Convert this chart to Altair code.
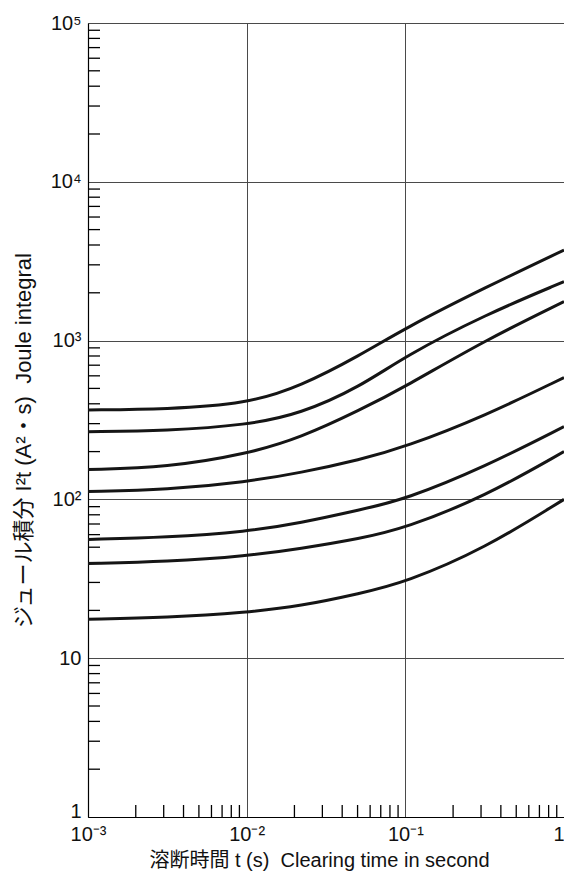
import altair as alt
import pandas as pd

# Clearing time (s)
times = [0.001, 0.00316, 0.01, 0.0218, 0.052, 0.1, 0.316, 1.0]

# Joule integral I2t (A2 s), one list per curve, top to bottom
curve_1 = [366, 370, 400, 515, 810, 1200, 2150, 3720]
curve_2 = [267, 271, 294, 345, 512, 800, 1450, 2350]
curve_3 = [154, 159, 193, 244, 366, 513, 1000, 1760]
curve_4 = [112, 115, 129, 147, 178, 214, 335, 585]
curve_5 = [56, 57.5, 62.7, 71, 86, 100, 160, 287]
curve_6 = [39.5, 40.5, 44, 49, 56.7, 66, 104, 200]
curve_7 = [17.6, 18.0, 19.4, 21.3, 25.6, 30, 49, 100]

curves = [curve_1, curve_2, curve_3, curve_4, curve_5, curve_6, curve_7]

x_major = [0.001, 0.01, 0.1, 1]
y_major = [1, 10, 100, 1000, 10000, 100000]

rows = []
for i, c in enumerate(curves):
    for t, v in zip(times, c):
        rows.append({"curve": f"c{i+1}", "t": t, "I2t": v})
df = pd.DataFrame(rows)

x_minor = [k * d for d in [0.001, 0.01, 0.1] for k in range(2, 10)]
y_minor = [k * d for d in [1, 10, 100, 1000, 10000] for k in range(2, 10)]
xm_df = pd.DataFrame({"t": x_minor})
ym_df = pd.DataFrame({"I2t": y_minor})

W, H = 476, 794
FONT = "Liberation Sans, Arial, Helvetica, sans-serif"
TFONT = "Liberation Sans, Arial, Noto Sans CJK JP, sans-serif"
GAP = "\u00a0\u00a0"

x_scale = alt.Scale(type="log", domain=[0.001, 1], nice=False)
y_scale = alt.Scale(type="log", domain=[1, 100000], nice=False)

x_axis = alt.Axis(
    values=x_major, format="",
    labelExpr="{'0.001':'10⁻³','0.01':'10⁻²','0.1':'10⁻¹','1':'1'}[toString(datum.value)] || datum.label",
    labelAlign={"expr": "datum.value == 1 ? 'right' : 'center'"},
    grid=True, gridColor="#4a4a4a", gridWidth=1, ticks=False, tickSize=0,
    domainColor="#000000", domainWidth=1.2, labelFont=FONT, labelFontSize=20,
    labelColor="#111111", labelPadding=7, labelFlush=False,
    title="溶断時間 t (s)" + GAP + "Clearing time in second", titleFont=TFONT,
    titleFontSize=20, titleFontWeight="normal", titleColor="#111111",
    titleY=43, titleBaseline="middle", titleX=231,
)
y_axis = alt.Axis(
    values=y_major, format="",
    labelExpr="{'1':'1','10':'10','100':'10²','1000':'10³','10000':'10⁴','100000':'10⁵'}[toString(datum.value)] || datum.label",
    labelBaseline={"expr": "datum.value == 1 ? 'alphabetic' : 'middle'"},
    grid=True, gridColor="#4a4a4a", gridWidth=1, ticks=False, tickSize=0,
    domainColor="#000000", domainWidth=1.2, labelFont=FONT, labelFontSize=20,
    labelColor="#111111", labelPadding=7, labelFlush=False,
    title="ジュール積分 I²t (A²・s)" + GAP + "Joule integral", titleFont=TFONT,
    titleFontSize=22, titleFontWeight="normal", titleColor="#111111",
    titleX=-65, titleY=417, titleBaseline="middle", titleAngle=-90,
)

base = alt.Chart(df).mark_line(
    color="#151515", strokeWidth=3, interpolate="basis", clip=True
).encode(
    x=alt.X("t:Q", scale=x_scale, axis=x_axis),
    y=alt.Y("I2t:Q", scale=y_scale, axis=y_axis),
    detail="curve:N",
)

y_ticks = alt.Chart(ym_df).mark_rule(color="#000000", strokeWidth=1.3).encode(
    y=alt.Y("I2t:Q", scale=y_scale),
    x=alt.value(0),
    x2=alt.value(12),
)
x_ticks = alt.Chart(xm_df).mark_rule(color="#000000", strokeWidth=1.3).encode(
    x=alt.X("t:Q", scale=x_scale),
    y=alt.value(H),
    y2=alt.value(H - 12),
)

chart = alt.layer(y_ticks, x_ticks, base).properties(
    width=W, height=H,
    autosize=alt.AutoSizeParams(type="none"),
    padding={"left": 80, "top": 15, "right": 0, "bottom": 55},
).configure_view(
    stroke="#000000", strokeWidth=1.2
).configure(background="white")

chart.save("out.html", embed_options={"renderer": "svg", "actions": False})
